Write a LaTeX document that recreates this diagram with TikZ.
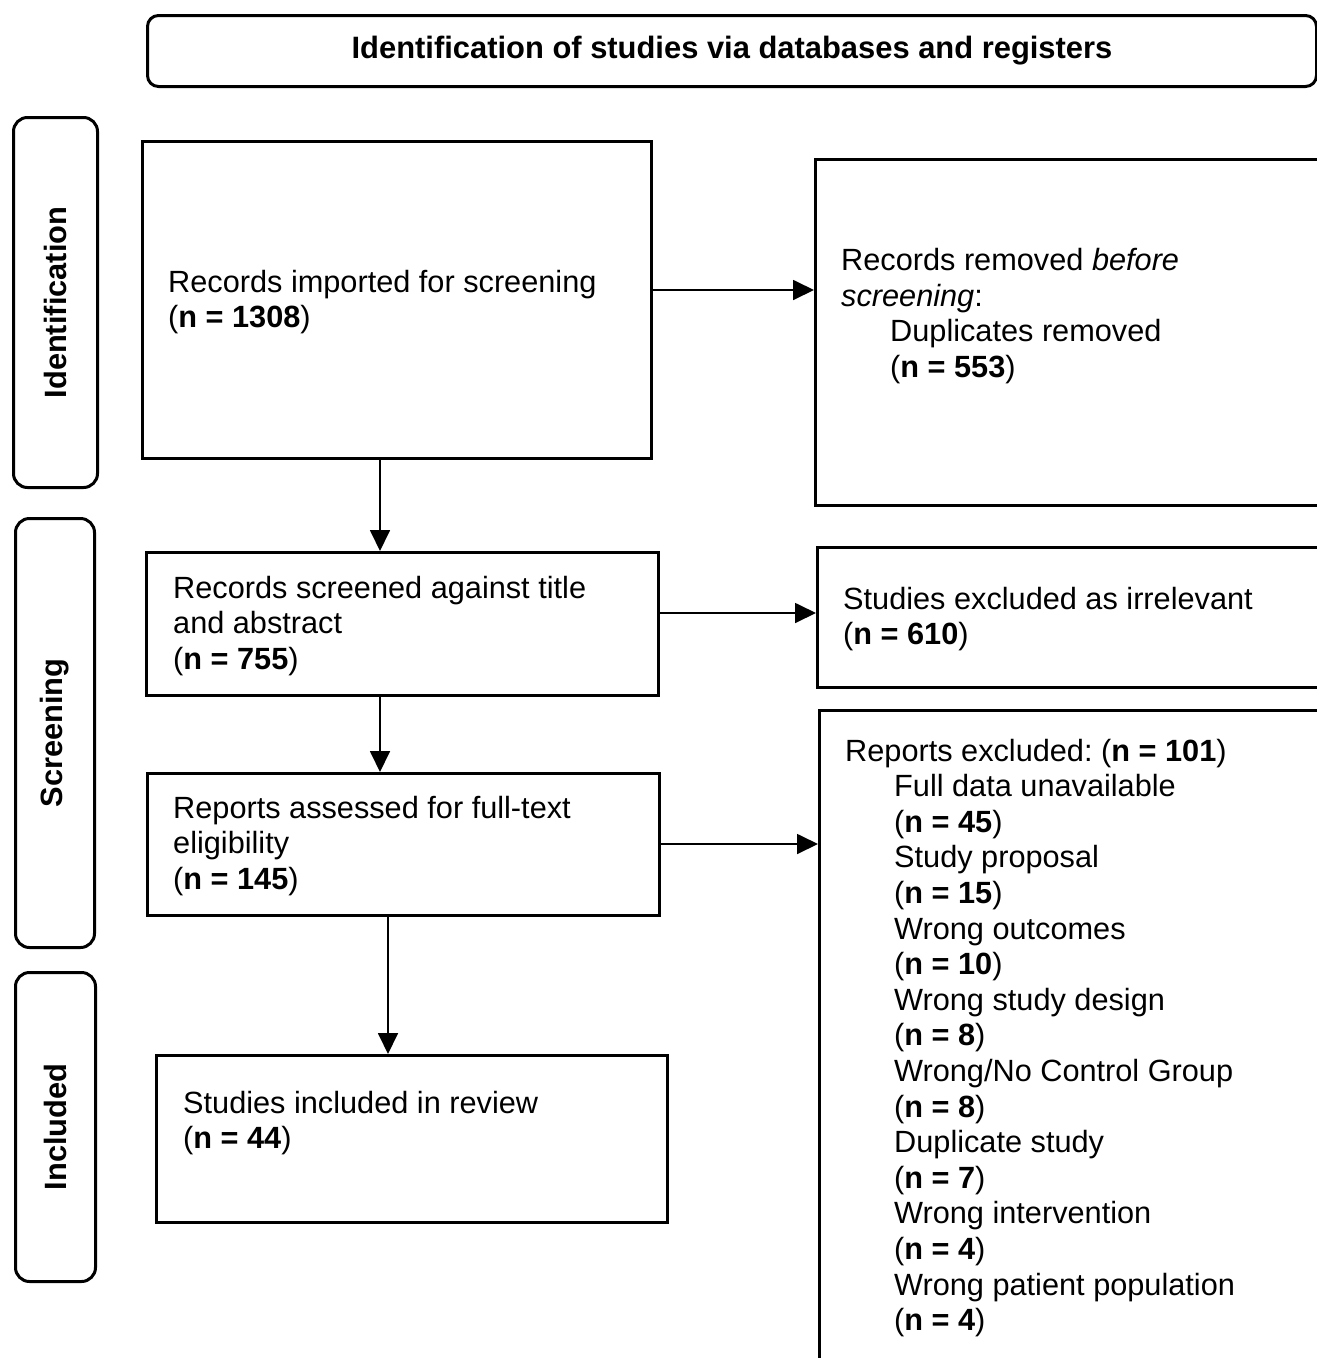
\documentclass[tikz,border=0pt]{standalone}
\usepackage{fontspec}
\setmainfont{Liberation Sans}
\usetikzlibrary{arrows.meta}
\frenchspacing
\begin{document}
\begin{tikzpicture}[x=1pt,y=-1pt,
  box/.style={draw=black, line width=3pt, rectangle, inner sep=0pt, anchor=north west},
  sidebox/.style={draw=black, line width=3pt, rounded corners=14pt, rectangle, inner sep=0pt, anchor=north west},
  txt/.style={anchor=west, align=left, inner sep=0pt, font=\fontsize{30.7}{35.6}\selectfont},
  lbl/.style={font=\fontsize{30.8}{36}\selectfont\bfseries, rotate=90, inner sep=0pt},
  arr/.style={draw=black, line width=1.8pt, -{Triangle[length=21pt,width=20pt]}},
]
\useasboundingbox (0,0) rectangle (1317,1358);
\clip (0,0) rectangle (1317,1358);
\fill[white] (0,0) rectangle (1317,1358);

% header
\node[sidebox, rounded corners=11pt, minimum width=1169pt, minimum height=71pt,
      font=\fontsize{30.9}{36}\selectfont\bfseries] (hdr) at (146,14)
      {Identification of studies via databases and registers};

% side labels
\node[sidebox, minimum width=84pt, minimum height=370pt] (s1) at (12,116) {};
\node[lbl] (l1) at (s1.center) {Identification};
\node[sidebox, minimum width=79pt, minimum height=429pt] (s2) at (14,517) {};
\node[lbl] (l2) at (s2.center) {Screening};
\node[sidebox, minimum width=80pt, minimum height=309pt] (s3) at (14,971) {};
\node[lbl] (l3) at (s3.center) {Included};

% boxes
\node[box, minimum width=509pt, minimum height=317pt] (b1) at (141,140) {};
\node[txt] (t1) at (168,302) {Records imported for screening\\(\textbf{n = 1308})};

\node[box, minimum width=530pt, minimum height=346pt] (b2) at (814,158) {};
\node[txt] (t2) at (841,316) {Records removed \textit{before}\\\textit{screening}:\\
\hspace*{49pt}Duplicates removed\\\hspace*{49pt}(\textbf{n = 553})};

\node[box, minimum width=512pt, minimum height=143pt] (b3) at (145,551) {};
\node[txt] (t3) at (173,626) {Records screened against title\\and abstract\\(\textbf{n = 755})};

\node[box, minimum width=530pt, minimum height=140pt] (b4) at (816,546) {};
\node[txt] (t4) at (843,619) {Studies excluded as irrelevant\\(\textbf{n = 610})};

\node[box, minimum width=512pt, minimum height=142pt] (b5) at (146,772) {};
\node[txt] (t5) at (173,846) {Reports assessed for full-text\\eligibility\\(\textbf{n = 145})};

\node[box, minimum width=530pt, minimum height=700pt] (b6) at (818,709) {};
\node[txt] (t6) at (845,1038) {Reports excluded: (\textbf{n = 101})\\
\hspace*{49pt}Full data unavailable\\
\hspace*{49pt}(\textbf{n = 45})\\
\hspace*{49pt}Study proposal\\
\hspace*{49pt}(\textbf{n = 15})\\
\hspace*{49pt}Wrong outcomes\\
\hspace*{49pt}(\textbf{n = 10})\\
\hspace*{49pt}Wrong study design\\
\hspace*{49pt}(\textbf{n = 8})\\
\hspace*{49pt}Wrong/No Control Group\\
\hspace*{49pt}(\textbf{n = 8})\\
\hspace*{49pt}Duplicate study\\
\hspace*{49pt}(\textbf{n = 7})\\
\hspace*{49pt}Wrong intervention\\
\hspace*{49pt}(\textbf{n = 4})\\
\hspace*{49pt}Wrong patient population\\
\hspace*{49pt}(\textbf{n = 4})};

\node[box, minimum width=511pt, minimum height=167pt] (b7) at (155,1054) {};
\node[txt] (t7) at (183,1123) {Studies included in review\\(\textbf{n = 44})};

% arrows
\draw[arr] (b1.east |- 0,290) -- (b2.west |- 0,290);
\draw[arr] (380,0 |- b1.south) -- (380,0 |- b3.north);
\draw[arr] (b3.east |- 0,613) -- (b4.west |- 0,613);
\draw[arr] (380,0 |- b3.south) -- (380,0 |- b5.north);
\draw[arr] (b5.east |- 0,844) -- (b6.west |- 0,844);
\draw[arr] (388,0 |- b5.south) -- (388,0 |- b7.north);
\end{tikzpicture}
\end{document}
